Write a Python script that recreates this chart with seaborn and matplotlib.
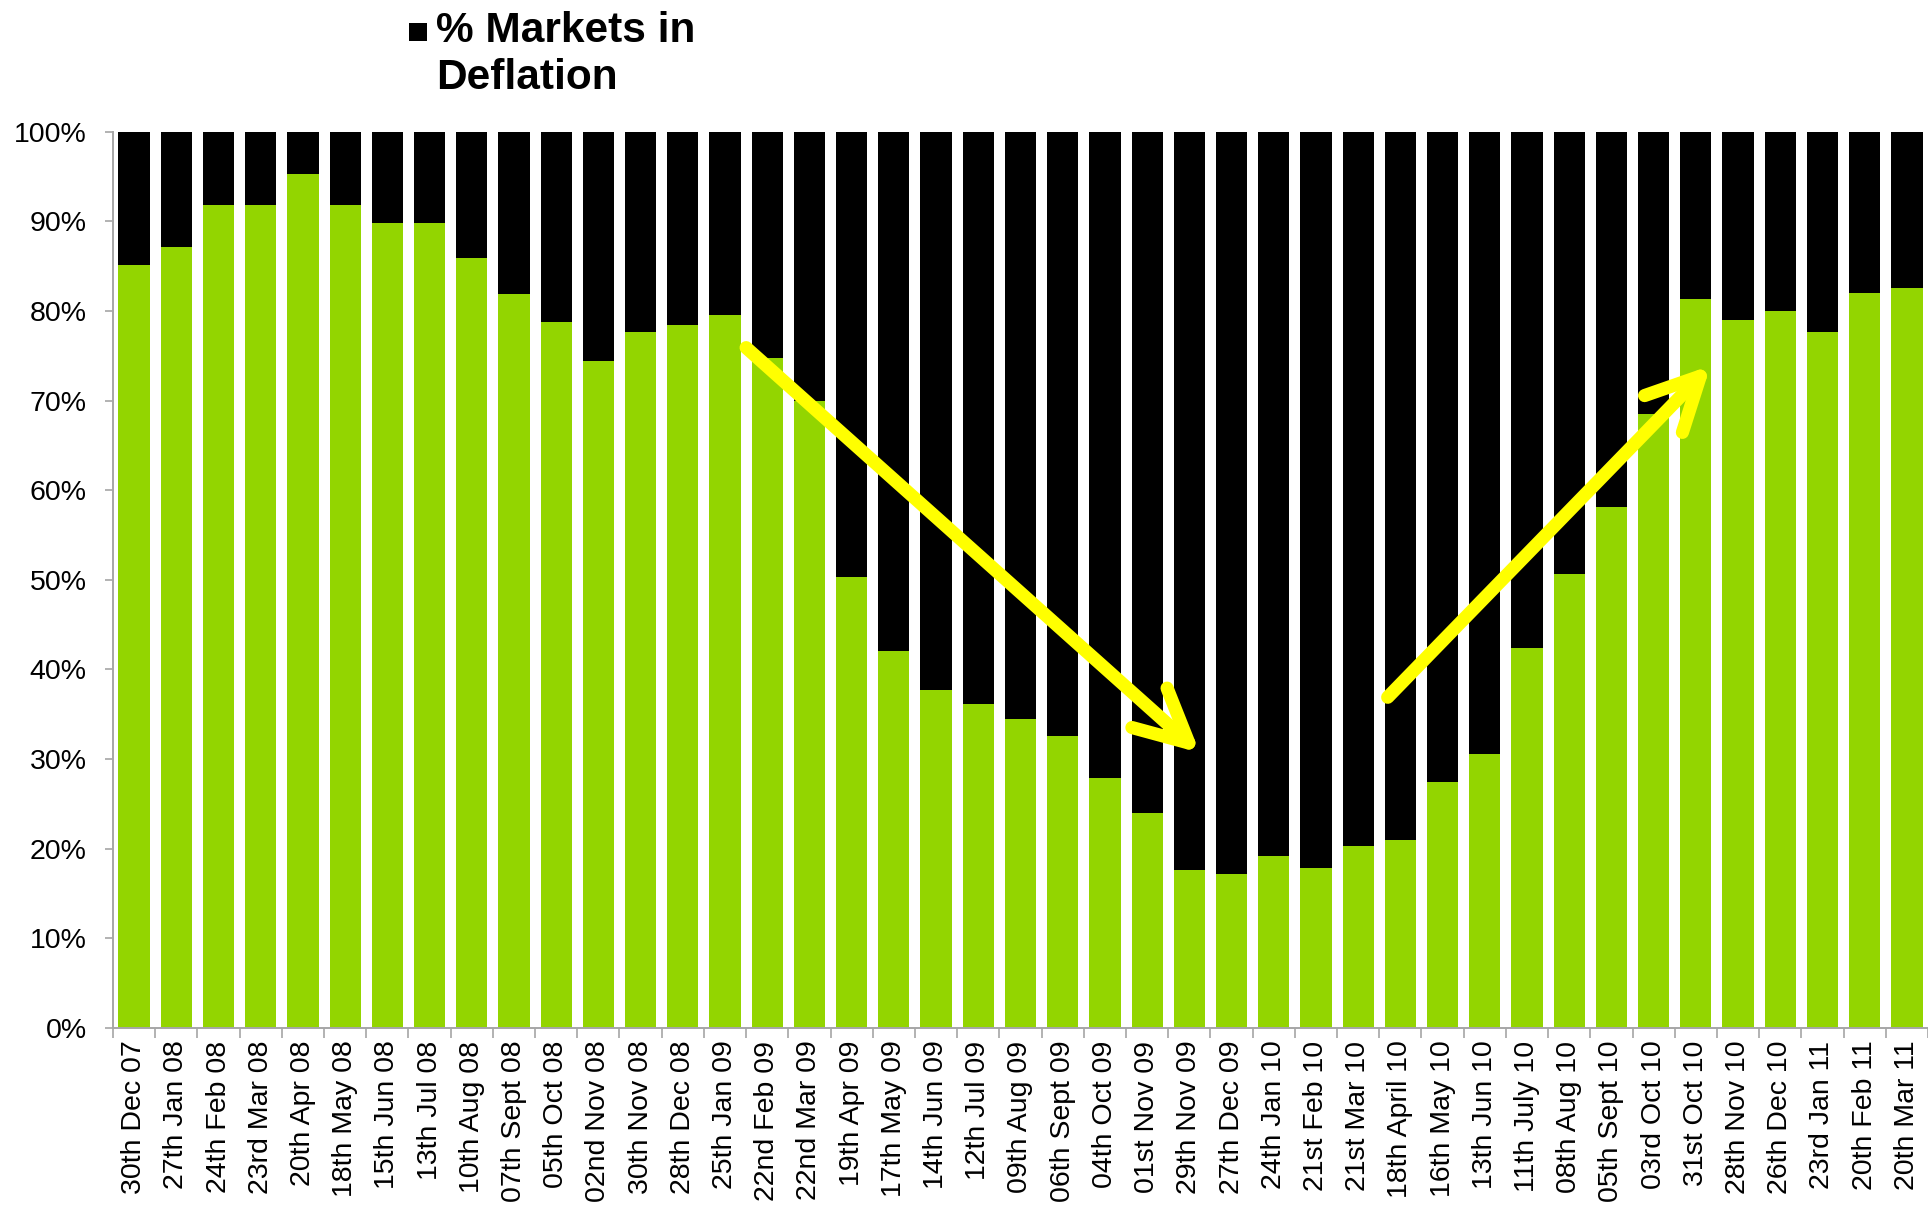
import matplotlib
matplotlib.use("Agg")
import matplotlib.pyplot as plt
import numpy as np
import pandas as pd
import seaborn as sns
from matplotlib.patches import Rectangle
from matplotlib.ticker import FixedLocator, PercentFormatter

# Survey dates (x axis)
dates = [
    "30th Dec 07", "27th Jan 08", "24th Feb 08", "23rd Mar 08", "20th Apr 08",
    "18th May 08", "15th Jun 08", "13th Jul 08", "10th Aug 08", "07th Sept 08",
    "05th Oct 08", "02nd Nov 08", "30th Nov 08", "28th Dec 08", "25th Jan 09",
    "22nd Feb 09", "22nd Mar 09", "19th Apr 09", "17th May 09", "14th Jun 09",
    "12th Jul 09", "09th Aug 09", "06th Sept 09", "04th Oct 09", "01st Nov 09",
    "29th Nov 09", "27th Dec 09", "24th Jan 10", "21st Feb 10", "21st Mar 10",
    "18th April 10", "16th May 10", "13th Jun 10", "11th July 10", "08th Aug 10",
    "05th Sept 10", "03rd Oct 10", "31st Oct 10", "28th Nov 10", "26th Dec 10",
    "23rd Jan 11", "20th Feb 11", "20th Mar 11",
]

# Share of markets not in deflation (%), green segment
not_deflation = [
    85.1, 87.1, 91.8, 91.8, 95.3, 91.8, 89.8, 89.8, 85.9, 81.9,
    78.8, 74.4, 77.6, 78.4, 79.5, 74.8, 70.0, 50.3, 42.1, 37.7,
    36.1, 34.5, 32.6, 27.9, 24.0, 17.6, 17.2, 19.2, 17.9, 20.3,
    21.0, 27.4, 30.6, 42.4, 50.7, 58.1, 68.5, 81.3, 79.0, 80.0,
    77.6, 82.0, 82.5,
]

# Share of markets in deflation (%), black segment stacked on top
deflation = [round(100.0 - v, 1) for v in not_deflation]

# Trend arrows: (bar position, percent) for tail and head
down_arrow_tail = (14.5, 75.9)
down_arrow_head = (25.25, 30.7)
up_arrow_tail = (29.7, 36.9)
up_arrow_head = (37.35, 73.9)

GREEN = "#93D500"
AXIS_GREY = "#A6A6A6"
ARROW_YELLOW = "#FFFF00"

sns.set_theme(style="white")
plt.rcParams["font.family"] = ["Liberation Sans", "DejaVu Sans"]

df = pd.DataFrame({
    "date": dates,
    "other": not_deflation,
    "deflation": deflation,
})
df["total"] = df["other"] + df["deflation"]

fig = plt.figure(figsize=(19.28, 12.12), dpi=100)
ax = fig.add_axes([0.0586, 0.1518, 0.9414, 0.7396])

bar_w = 0.74
sns.barplot(data=df, x="date", y="total", color="black", width=bar_w,
            saturation=1, ax=ax, linewidth=0)
sns.barplot(data=df, x="date", y="other", color=GREEN, width=bar_w,
            saturation=1, ax=ax, linewidth=0)

n = len(dates)
ax.set_xlim(-0.5, n - 0.5)
ax.set_ylim(0, 100)
ax.set_xlabel("")
ax.set_ylabel("")

# y axis: percent ticks every 10
ax.yaxis.set_major_locator(FixedLocator(np.arange(0, 101, 10)))
ax.yaxis.set_major_formatter(PercentFormatter(decimals=0))
ax.tick_params(axis="y", which="major", left=True, length=6, width=1.2,
               color=AXIS_GREY, pad=13, labelsize=20.5, labelcolor="black")

# x axis: labels at bar centres, tick marks between categories
ax.set_xticks(np.arange(n))
ax.set_xticklabels(dates, rotation=90, fontsize=20.5, color="black")
ax.tick_params(axis="x", which="major", bottom=True, length=0, pad=9)
ax.xaxis.set_minor_locator(FixedLocator(np.arange(-0.5, n, 1.0)))
ax.tick_params(axis="x", which="minor", bottom=True, length=7, width=1.2,
               color=AXIS_GREY)

sns.despine(ax=ax, top=True, right=True)
for side in ("left", "bottom"):
    ax.spines[side].set_color(AXIS_GREY)
    ax.spines[side].set_linewidth(1.4)
ax.grid(False)

# Yellow trend arrows
arrow_props = dict(
    arrowstyle="->,head_length=1.9,head_width=0.95",
    color=ARROW_YELLOW, lw=9.5, mutation_scale=20,
    shrinkA=0, shrinkB=0, capstyle="round", joinstyle="round",
)
ax.annotate("", xy=down_arrow_head, xytext=down_arrow_tail,
            arrowprops=arrow_props, zorder=5)
ax.annotate("", xy=up_arrow_head, xytext=up_arrow_tail,
            arrowprops=arrow_props, zorder=5)

# Legend entry for the black series
fig.patches.append(Rectangle((409 / 1928, 1 - 41 / 1212), 18 / 1928, 18 / 1212,
                             transform=fig.transFigure, facecolor="black",
                             edgecolor="none"))
fig.text(436 / 1928, 1 - 11 / 1212, "% Markets in\nDeflation",
         ha="left", va="top", fontsize=30.5, fontweight="bold",
         color="black", linespacing=1.22)

fig.savefig("out.png", dpi=100, facecolor="white")
